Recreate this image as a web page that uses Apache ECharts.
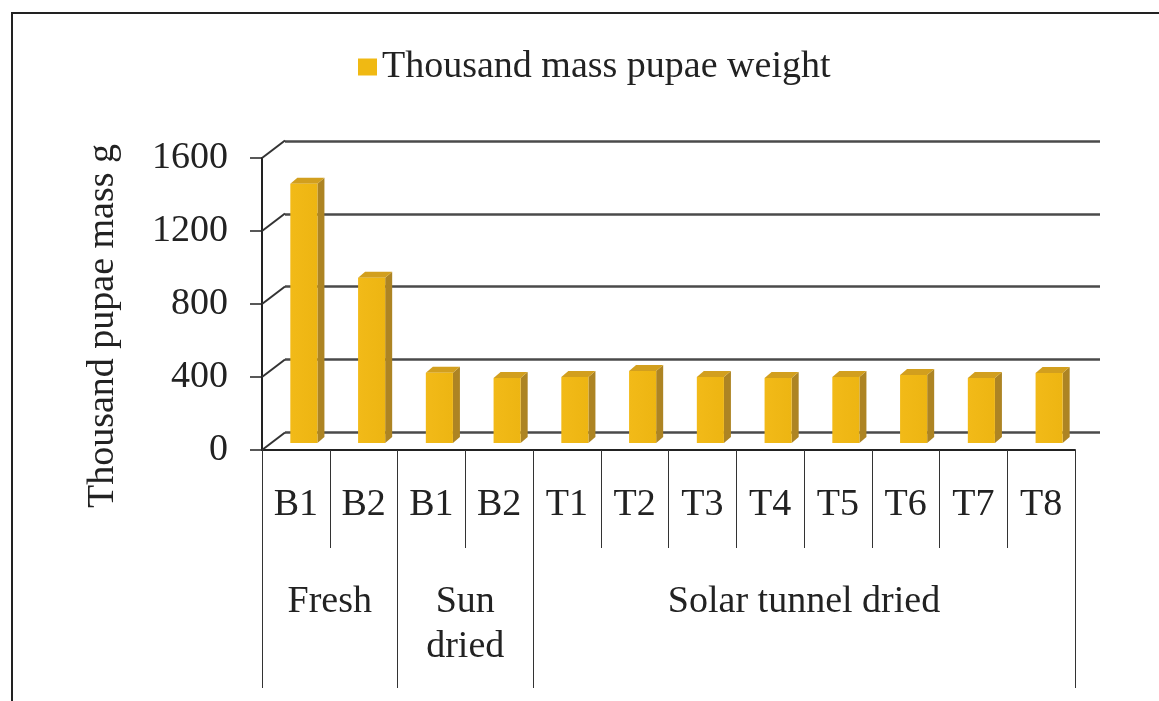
<!DOCTYPE html>
<html>
<head>
<meta charset="utf-8">
<script src="https://cdn.jsdelivr.net/npm/echarts@6/dist/echarts.min.js"></script>
<style>
  html, body { margin: 0; padding: 0; background: #fff; }
  #chart { width: 1159px; height: 701px; }
</style>
</head>
<body>
<div id="chart"></div>
<script>
// data
const categories = ['B1', 'B2', 'B1', 'B2', 'T1', 'T2', 'T3', 'T4', 'T5', 'T6', 'T7', 'T8'];
const pupaeWeight = [1420, 905, 385, 356, 362, 395, 362, 356, 362, 373, 356, 384];
const groupNames = ['Fresh', 'Sun\ndried', 'Solar tunnel dried'];
const groupSizes = [2, 2, 8];
const yTicks = [0, 400, 800, 1200, 1600];

const FONT = '"Liberation Serif", "Times New Roman", serif';
const FS = 38;
// oblique offsets (px) for the fake 3D look
const DEPTH_X = 23, DEPTH_Y = -17.5;   // front plane -> back wall
const BAR_X = 8, BAR_Y = -7;           // bar front face inside the floor
const BAR_DX = 7, BAR_DY = -6;         // bar thickness

// group boundaries and centers on a 0..12 scale
let groupEdges = [0], groupCenters = [], groupLabel = {};
let acc = 0;
groupSizes.forEach((n, i) => {
  groupCenters.push(acc + n / 2);
  groupLabel[acc + n / 2] = groupNames[i];
  acc += n;
  groupEdges.push(acc);
});

const chart = echarts.init(document.getElementById('chart'));

const option = {
  animation: false,
  textStyle: { fontFamily: FONT },
  graphic: [{
    type: 'polyline',
    shape: { points: [[12, 701], [12, 13], [1159, 13]] },
    style: { stroke: '#222', lineWidth: 2, fill: null }
  }],
  legend: {
    data: ['Thousand mass pupae weight'],
    left: 353,
    top: 43,
    icon: 'rect',
    itemWidth: 19,
    itemHeight: 17,
    itemGap: 6,
    textStyle: { fontFamily: FONT, fontSize: FS, color: '#222' }
  },
  grid: [
    { left: 262, right: 84, top: 158, bottom: 251 },   // front plane
    { left: 285, right: 59, top: 141, bottom: 269 }    // back wall
  ],
  xAxis: [
    {
      type: 'category',
      gridIndex: 0,
      data: categories,
      axisLine: { lineStyle: { color: '#222', width: 2 } },
      axisTick: { show: true, interval: 0, length: 98, lineStyle: { color: '#333', width: 1 } },
      axisLabel: {
        interval: 0, margin: 33, fontFamily: FONT, fontSize: FS, color: '#222', lineHeight: 44
      }
    },
    {
      type: 'value',
      gridIndex: 0,
      min: 0,
      max: categories.length,
      position: 'bottom',
      axisLine: { show: false },
      splitLine: { show: false },
      axisTick: { show: true, customValues: groupEdges, length: 238, lineStyle: { color: '#333', width: 1 } },
      axisLabel: {
        customValues: groupCenters,
        formatter: v => groupLabel[v] || '',
        margin: 130, fontFamily: FONT, fontSize: FS, color: '#222', lineHeight: 45
      }
    },
    {
      type: 'category', gridIndex: 1, data: categories, show: false
    }
  ],
  yAxis: [
    {
      type: 'value',
      gridIndex: 0,
      min: 0, max: 1600, interval: 400,
      name: 'Thousand pupae mass g',
      nameLocation: 'middle',
      nameGap: 140,
      nameTextStyle: { fontFamily: FONT, fontSize: FS, color: '#222', padding: [0, 44, 0, 0] },
      axisLine: { show: true, lineStyle: { color: '#222', width: 2 } },
      axisTick: { show: true, length: 12, lineStyle: { color: '#222', width: 1.5 } },
      axisLabel: { margin: 34, fontFamily: FONT, fontSize: FS, color: '#222', formatter: v => String(v) },
      splitLine: { show: false }
    },
    {
      type: 'value',
      gridIndex: 1,
      min: 0, max: 1600, interval: 400,
      axisLine: { show: false },
      axisTick: { show: false },
      axisLabel: { show: false },
      splitLine: { show: true, lineStyle: { color: '#4a4a4a', width: 2.5 } }
    }
  ],
  series: [
    {
      // oblique lines from front axis ticks to back wall gridlines
      type: 'custom',
      name: 'connectors',
      xAxisIndex: 0, yAxisIndex: 0,
      data: yTicks.map(v => [0, v]),
      encode: { x: 0, y: 1 },
      silent: true,
      z: 1,
      renderItem: function (params, api) {
        const p = api.coord([0, api.value(1)]);
        const x = params.coordSys.x;
        return {
          type: 'line',
          shape: { x1: x, y1: p[1], x2: x + DEPTH_X, y2: p[1] + DEPTH_Y },
          style: { stroke: '#333', lineWidth: 2 }
        };
      }
    },
    {
      type: 'custom',
      name: 'Thousand mass pupae weight',
      xAxisIndex: 0, yAxisIndex: 0,
      data: pupaeWeight.map((v, i) => [i, v]),
      encode: { x: 0, y: 1 },
      itemStyle: { color: '#F0B913' },
      clip: false,
      z: 3,
      renderItem: function (params, api) {
        const top = api.coord([api.value(0), api.value(1)]);
        const base = api.coord([api.value(0), 0]);
        const w = api.size([1, 0])[0] * 0.4;
        const x0 = top[0] - w / 2 + BAR_X, x1 = x0 + w;
        const y0 = top[1] + BAR_Y, y1 = base[1] + BAR_Y;
        return {
          type: 'group',
          children: [
            {
              type: 'polygon',
              shape: { points: [[x1, y0], [x1 + BAR_DX, y0 + BAR_DY], [x1 + BAR_DX, y1 + BAR_DY], [x1, y1]] },
              style: { fill: '#AD8423' }
            },
            {
              type: 'polygon',
              shape: { points: [[x0, y0], [x1, y0], [x1 + BAR_DX, y0 + BAR_DY], [x0 + BAR_DX, y0 + BAR_DY]] },
              style: { fill: '#D29F1E' }
            },
            {
              type: 'rect',
              shape: { x: x0, y: y0, width: w, height: y1 - y0 },
              style: {
                fill: new echarts.graphic.LinearGradient(0, 0, 1, 0, [
                  { offset: 0, color: '#F2BA18' },
                  { offset: 1, color: '#EDB512' }
                ])
              }
            }
          ]
        };
      }
    }
  ]
};

chart.setOption(option);
</script>
</body>
</html>
